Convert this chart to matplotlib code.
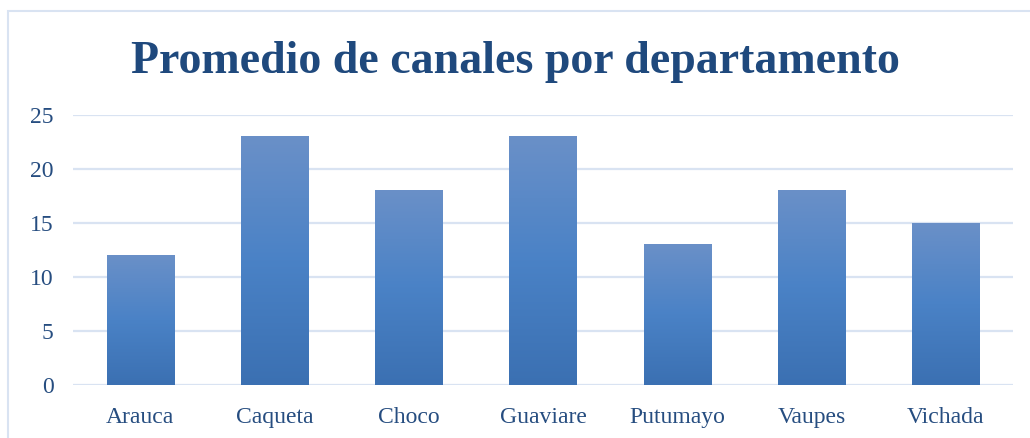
import numpy as np
import matplotlib.pyplot as plt
from matplotlib.colors import LinearSegmentedColormap
from matplotlib.patches import Rectangle

departamentos = ['Arauca', 'Caqueta', 'Choco', 'Guaviare', 'Putumayo', 'Vaupes', 'Vichada']
canales = [12, 23, 18, 23, 13, 18, 15]
yticks = [0, 5, 10, 15, 20, 25]

txt_color = '#264d80'
grid_color = '#d9e3f2'
grad = LinearSegmentedColormap.from_list('bar', ['#3b70b2', '#4a82c6', '#6a90c8'])

plt.rcParams['font.family'] = ['Liberation Serif', 'DejaVu Serif']

fig = plt.figure(figsize=(10.3, 4.38), dpi=100)
ax = fig.add_axes([73/1030, 1-385/438, 940/1030, 270/438])

x = np.arange(len(departamentos))
bars = ax.bar(x, canales, width=0.5, color='none', zorder=3)

# vertical gradient per bar, light at the top
g = np.linspace(0, 1, 256).reshape(-1, 1)
for b in bars:
    ax.imshow(g, cmap=grad, aspect='auto', origin='lower', zorder=3,
              extent=[b.get_x(), b.get_x() + b.get_width(), 0, b.get_height()])

ax.set_xlim(-0.5, len(departamentos) - 0.5)
ax.set_ylim(0, 25)
ax.set_yticks(yticks)
ax.set_xticks(x)
ax.set_xticklabels(departamentos)
ax.tick_params(length=0, labelsize=17, colors=txt_color)
ax.tick_params(axis='y', pad=14)
ax.tick_params(axis='x', pad=16)
ax.grid(axis='y', color=grid_color, linewidth=1.6, zorder=0)
for s in ax.spines.values():
    s.set_visible(False)

fig.text(0.5, 1-62/438, 'Promedio de canales por departamento', ha='center', va='center',
         fontsize=33, fontweight='bold', color='#1f497d')

fig.patches.append(Rectangle((8/1030, -0.1), 1.2, 1-11/438+0.1, transform=fig.transFigure,
                             fill=False, edgecolor=grid_color, linewidth=1.5))

fig.savefig('out.png', dpi=100)
